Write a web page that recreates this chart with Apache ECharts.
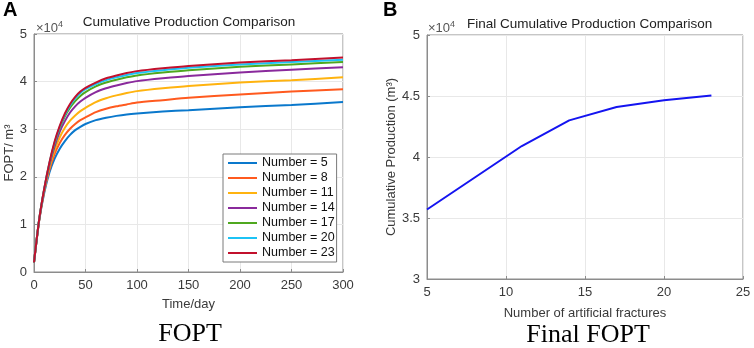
<!DOCTYPE html>
<html>
<head>
<meta charset="utf-8">
<script src="https://cdn.jsdelivr.net/npm/echarts/dist/echarts.min.js"></script>
<style>
    html, body { margin: 0; padding: 0; background: #fff; }
    #main { width: 754px; height: 348px; }
</style>
</head>
<body>
<div id="main"></div>
<script>
// 时间 (day)
var days = [0, 5, 10, 15, 20, 25, 30, 35, 40, 45, 50, 60, 70, 80, 90, 100, 125, 150, 200, 250, 300];

// FOPT, x10^4 m3
var fopt5  = [0.2, 1.08, 1.67, 2.09, 2.38, 2.59, 2.75, 2.88, 2.98, 3.05, 3.11, 3.19, 3.24, 3.28, 3.31, 3.33, 3.37, 3.40, 3.46, 3.51, 3.57];
var fopt8  = [0.2, 1.08, 1.70, 2.15, 2.48, 2.71, 2.88, 3.01, 3.11, 3.19, 3.25, 3.36, 3.43, 3.48, 3.52, 3.56, 3.61, 3.66, 3.73, 3.79, 3.84];
var fopt11 = [0.2, 1.09, 1.72, 2.20, 2.56, 2.83, 3.03, 3.18, 3.29, 3.38, 3.45, 3.57, 3.65, 3.71, 3.76, 3.80, 3.86, 3.91, 3.98, 4.03, 4.09];
var fopt14 = [0.2, 1.09, 1.74, 2.25, 2.64, 2.95, 3.17, 3.35, 3.48, 3.58, 3.66, 3.78, 3.86, 3.92, 3.97, 4.01, 4.07, 4.12, 4.19, 4.25, 4.30];
var fopt17 = [0.2, 1.10, 1.75, 2.28, 2.70, 3.02, 3.27, 3.45, 3.59, 3.70, 3.78, 3.90, 3.98, 4.04, 4.09, 4.13, 4.19, 4.24, 4.31, 4.36, 4.41];
var fopt20 = [0.2, 1.10, 1.75, 2.29, 2.72, 3.05, 3.30, 3.50, 3.65, 3.76, 3.84, 3.95, 4.03, 4.09, 4.14, 4.18, 4.24, 4.29, 4.36, 4.41, 4.46];
var fopt23 = [0.2, 1.10, 1.76, 2.30, 2.74, 3.07, 3.33, 3.53, 3.68, 3.79, 3.87, 3.98, 4.07, 4.13, 4.18, 4.22, 4.28, 4.33, 4.40, 4.45, 4.505];

var seriesNames = ['Number = 5', 'Number = 8', 'Number = 11', 'Number = 14', 'Number = 17', 'Number = 20', 'Number = 23'];
var seriesColors = ['#0a78cc', '#ff5a1f', '#ffb30f', '#8a2a9c', '#4fa81f', '#1cc3f5', '#c2102c'];

// 右图: 裂缝条数 vs 最终累产
var fractures = [5, 8, 11, 14, 17, 20, 23];
var finalFopt = [3.57, 3.83, 4.09, 4.30, 4.41, 4.465, 4.505];

var font = "'Liberation Sans', Arial, sans-serif";
var labelColor = '#3a3a3a';
var boxColor = '#8c8c8c';
var gridColor = '#e8e8e8';

var pairUp = function(xs, ys) {
    var res = [];
    for (var i = 0; i < xs.length; i++) {
        res.push([xs[i], ys[i]]);
    }
    return res;
};

var allFopt = [fopt5, fopt8, fopt11, fopt14, fopt17, fopt20, fopt23];
var series = [];
for (var i = 0; i < allFopt.length; i++) {
    series.push({
        name: seriesNames[i],
        type: 'line',
        xAxisIndex: 0,
        yAxisIndex: 0,
        data: pairUp(days, allFopt[i]),
        smooth: 0.25,
        symbol: 'none',
        lineStyle: { color: seriesColors[i], width: 2 },
        itemStyle: { color: seriesColors[i] },
        z: 2 + i
    });
}
series.push({
    name: 'final',
    type: 'line',
    xAxisIndex: 1,
    yAxisIndex: 1,
    data: pairUp(fractures, finalFopt),
    symbol: 'none',
    lineStyle: { color: '#1414f0', width: 2 },
    itemStyle: { color: '#1414f0' }
});

var axisCommon = function() {
    return {
        type: 'value',
        axisLine: { show: true, lineStyle: { color: boxColor, width: 1 } },
        axisTick: { show: true, inside: true, length: 3, lineStyle: { color: boxColor } },
        splitLine: { show: true, lineStyle: { color: gridColor, width: 1 } },
        axisLabel: { color: labelColor, fontFamily: font, fontSize: 13 },
        nameTextStyle: { color: labelColor, fontFamily: font, fontSize: 13 }
    };
};

var xLeft = axisCommon();
xLeft.gridIndex = 0; xLeft.min = 0; xLeft.max = 300; xLeft.interval = 50;
xLeft.name = 'Time/day'; xLeft.nameLocation = 'middle'; xLeft.nameGap = 26;
xLeft.axisLabel.margin = 7;

var yLeft = axisCommon();
yLeft.gridIndex = 0; yLeft.min = 0; yLeft.max = 5; yLeft.interval = 1;
yLeft.name = 'FOPT/ m³'; yLeft.nameLocation = 'middle'; yLeft.nameGap = 14;
yLeft.axisLabel.margin = 7;

var xRight = axisCommon();
xRight.gridIndex = 1; xRight.min = 5; xRight.max = 25; xRight.interval = 5;
xRight.name = 'Number of artificial fractures'; xRight.nameLocation = 'middle'; xRight.nameGap = 28;
xRight.axisLabel.margin = 7;

var yRight = axisCommon();
yRight.gridIndex = 1; yRight.min = 3; yRight.max = 5; yRight.interval = 0.5;
yRight.name = 'Cumulative Production (m³)'; yRight.nameLocation = 'middle'; yRight.nameGap = 26;
yRight.axisLabel.margin = 7;

// ×10^4 标注
var expRich = {
    b: { fontSize: 13, fontFamily: font, fill: '#555' },
    s: { fontSize: 9, fontFamily: font, fill: '#555', padding: [0, 0, 7, 0] }
};

var option = {
    animation: false,
    backgroundColor: '#fff',
    textStyle: { fontFamily: font },
    grid: [
        { left: 34, top: 34, width: 309, height: 238, show: true, borderColor: boxColor, borderWidth: 1, backgroundColor: 'transparent' },
        { left: 427, top: 35, width: 316, height: 244, show: true, borderColor: boxColor, borderWidth: 1, backgroundColor: 'transparent' }
    ],
    xAxis: [xLeft, xRight],
    yAxis: [yLeft, yRight],
    legend: {
        data: seriesNames,
        orient: 'vertical',
        left: 223,
        top: 154,
        padding: [2, 2, 2, 5],
        icon: 'rect',
        itemWidth: 29,
        itemHeight: 2,
        itemGap: 1,
        backgroundColor: '#fff',
        borderColor: '#7a7a7a',
        borderWidth: 1,
        textStyle: { color: '#111', fontFamily: font, fontSize: 12.5, lineHeight: 14 }
    },
    graphic: [
        { type: 'text', left: 3, top: 0, style: { text: 'A', font: 'bold 20px ' + font, fill: '#000' } },
        { type: 'text', left: 383, top: 0, style: { text: 'B', font: 'bold 20px ' + font, fill: '#000' } },
        { type: 'text', x: 189, y: 22, style: { text: 'Cumulative Production Comparison', font: '13.5px ' + font, fill: '#222', align: 'center', verticalAlign: 'middle' } },
        { type: 'text', x: 36, y: 28, style: { text: '{b|×10}{s|4}', rich: expRich, align: 'left', verticalAlign: 'middle' } },
        { type: 'text', x: 428, y: 28, style: { text: '{b|×10}{s|4}', rich: expRich, align: 'left', verticalAlign: 'middle' } },
        { type: 'text', x: 467, y: 24, style: { text: 'Final Cumulative Production Comparison', font: '13.5px ' + font, fill: '#222', align: 'left', verticalAlign: 'middle' } },
        { type: 'text', x: 190, y: 334, style: { text: 'FOPT', font: '26px "Liberation Serif", "Times New Roman", serif', fill: '#000', align: 'center', verticalAlign: 'middle' } },
        { type: 'text', x: 588, y: 335, style: { text: 'Final FOPT', font: '26px "Liberation Serif", "Times New Roman", serif', fill: '#000', align: 'center', verticalAlign: 'middle' } }
    ],
    series: series
};

var chart = echarts.init(document.getElementById('main'));
chart.setOption(option);
</script>
</body>
</html>
